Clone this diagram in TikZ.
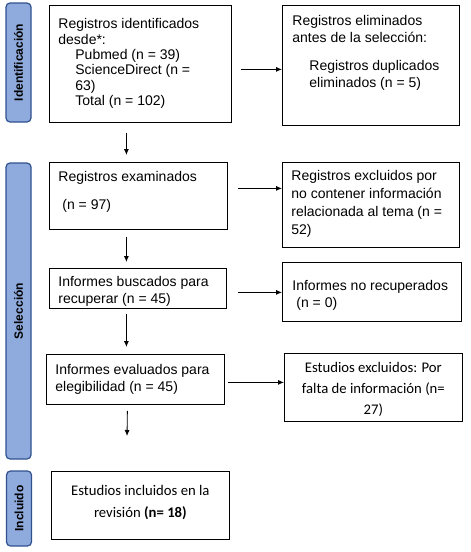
\documentclass[tikz,border=0pt]{standalone}
\usepackage{fontspec}
\setmainfont{Liberation Sans}
\newfontfamily\calib{Carlito}
\usetikzlibrary{arrows.meta}
\definecolor{barfill}{RGB}{143,170,220}
\definecolor{barborder}{RGB}{47,82,143}
% #1 width, #2 height, #3 left pad, #4 first baseline, #5 baselineskip, #6 text
\newcommand\lbox[6]{\parbox[c][#2][t]{#1}{\fontsize{14pt}{#5}\selectfont\raggedright\leftskip=#3\relax\rule{0pt}{#4}#6}}
\newcommand\cbox[5]{\parbox[c][#2][t]{#1}{\calib\fontsize{14.7pt}{#4}\selectfont\centering\rule{0pt}{#3}#5}}
\begin{document}
\begin{tikzpicture}[x=1pt,y=-1pt,
  box/.style={draw=black, line width=0.8pt, inner sep=0pt, anchor=north west},
  bar/.style={draw=barborder, fill=barfill, rounded corners=4pt, line width=1.2pt,
    rotate=90, inner sep=0pt, font=\fontsize{12pt}{14pt}\selectfont\bfseries},
  arr/.style={line width=0.8pt, -{Latex[length=6pt,width=5pt]}}]
\useasboundingbox (0,0) rectangle (471,552);
% side bars
\node[bar, minimum width=119pt, minimum height=25pt] (idb) at (18.5,62.5) {Identificación};
\node[bar, minimum width=296pt, minimum height=25pt] (selb) at (18.5,311) {Selección};
\node[bar, minimum width=75pt, minimum height=25pt] (incb) at (19,508.5) {Incluido};
% boxes
\node[box] (b1) at (49,5) {\lbox{182pt}{117pt}{9pt}{23.5pt}{15.3pt}{Registros identificados\\desde*:\\
  \hspace*{17pt}Pubmed (n = 39)\\\hspace*{17pt}ScienceDirect (n =\\\hspace*{17pt}63)\\\hspace*{17pt}Total (n = 102)}};
\node[box] (b2) at (282,5) {\lbox{177pt}{120pt}{10pt}{20pt}{17pt}{Registros eliminados\\antes de la selección:\\[11pt]
  \hspace*{17pt}Registros duplicados\\\hspace*{17pt}eliminados (n = 5)}};
\node[box] (b3) at (49,162) {\lbox{178pt}{67pt}{9pt}{19pt}{17pt}{Registros examinados\\[11pt]\hspace*{4pt}(n = 97)}};
\node[box] (b4) at (282,162) {\lbox{177pt}{85pt}{9pt}{18pt}{18pt}{Registros excluidos por\\no contener información\\relacionada al tema (n =\\52)}};
\node[box] (b5) at (49,268) {\lbox{177pt}{40pt}{9pt}{18pt}{17pt}{Informes buscados para\\recuperar (n = 45)}};
\node[box] (b6) at (282,262) {\lbox{179pt}{59pt}{10pt}{28pt}{17pt}{Informes no recuperados\\\hspace*{4pt}(n = 0)}};
\node[box] (b7) at (46,354) {\lbox{178pt}{50pt}{9pt}{20pt}{17pt}{Informes evaluados para\\elegibilidad (n = 45)}};
\node[box] (b8) at (284,353) {\cbox{178pt}{68pt}{19pt}{21pt}{Estudios excluidos: Por\\falta de información (n=\\27)}};
\node[box] (b9) at (51,471) {\cbox{178pt}{68pt}{24pt}{22pt}{Estudios incluidos en la\\revisión \textbf{(n= 18)}}};
\coordinate (endc) at (127,436);
% horizontal arrows
\draw[arr] ([shift={(9,5.5)}]b1.east) -- ([shift={(0,4)}]b2.west);
\draw[arr] ([shift={(10,-7.5)}]b3.east) -- ([shift={(0,-16.5)}]b4.west);
\draw[arr] ([shift={(11,4)}]b5.east) -- ([shift={(0,0.5)}]b6.west);
\draw[arr] ([shift={(3,3)}]b7.east) -- ([shift={(0,-5)}]b8.west);
% vertical arrows
\draw[arr] ([shift={(-14,10)}]b1.south) -- ([shift={(-12,-7)}]b3.north);
\draw[arr] ([shift={(-12,7)}]b3.south) -- ([shift={(-11.5,-6)}]b5.north);
\draw[arr] ([shift={(-11.5,5)}]b5.south) -- ([shift={(-9,-7)}]b7.north);
\draw[arr] ([shift={(-8,6)}]b7.south) -- (endc);
\end{tikzpicture}
\end{document}
